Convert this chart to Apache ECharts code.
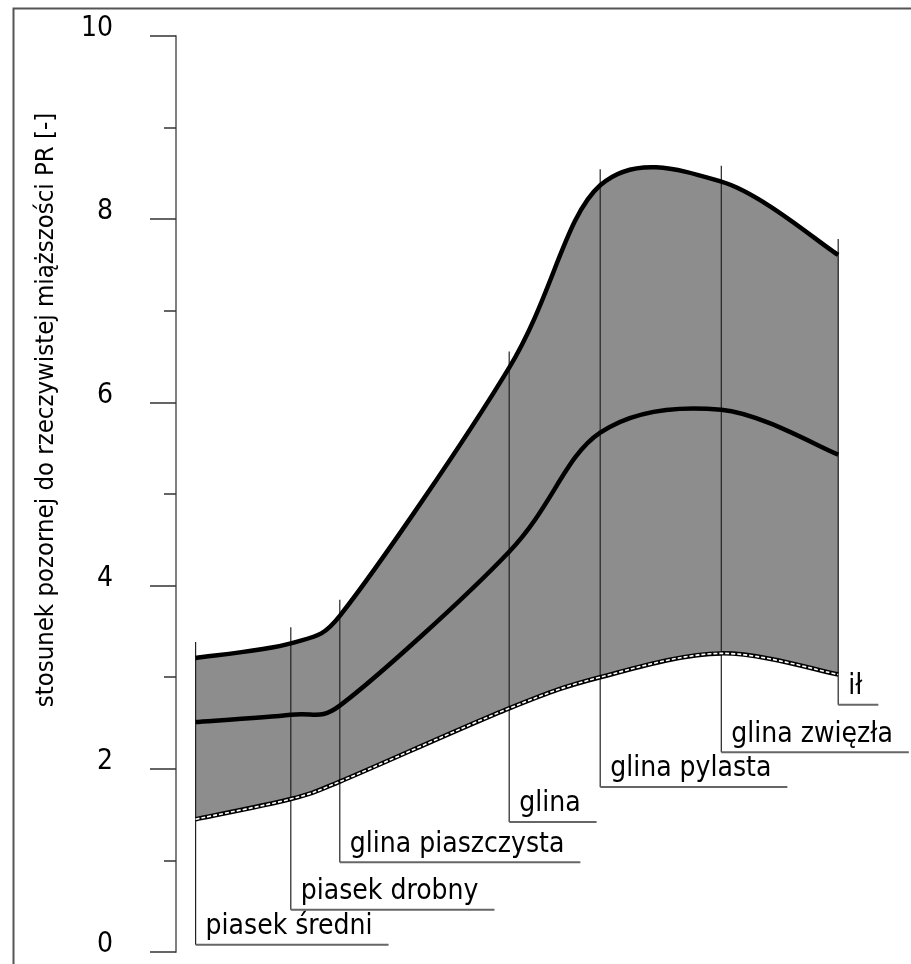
<!DOCTYPE html>
<html><head><meta charset="utf-8">
<script src="https://cdn.jsdelivr.net/npm/echarts@6/dist/echarts.min.js"></script>
<style>html,body{margin:0;padding:0;background:#fff}#c{width:911px;height:964px}</style>
</head><body><div id="c"></div>
<script>
// ---- data ----
const categories = ['piasek średni', 'piasek drobny', 'glina piaszczysta', 'glina', 'glina pylasta', 'glina zwięzła', 'ił'];
const xPos = [2.8, 16.4, 23.4, 47.6, 60.6, 77.9, 94.6];
const maxVals = [3.21, 3.37, 3.67, 6.38, 8.37, 8.41, 7.61];
const meanVals = [2.51, 2.59, 2.69, 4.37, 5.67, 5.92, 5.43];
const minVals = [1.45, 1.67, 1.86, 2.66, 3.00, 3.26, 3.03];
const yTickLabels = ['0', '2', '4', '6', '8', '10'];
const yTitle = 'stosunek pozornej do rzeczywistej miąższości PR [-]';

// ---- layout (label shelf heights in axis units) ----
const LABEL_LEVELS = [0.08, 0.46, 0.98, 1.42, 1.80, 2.18, 2.70];
const FONT = '"DejaVu Sans Condensed", "DejaVu Sans", sans-serif';
const LABEL_SIZE = 28;

const measureCtx = document.createElement('canvas').getContext('2d');
measureCtx.font = LABEL_SIZE + 'px ' + FONT;
function textW(t) { return measureCtx.measureText(t).width; }

// spreadsheet-style smoothing: arm = (next - prev) / 6, capped at half the segment length
function controls(pts) {
  const n = pts.length, cp = [];
  for (let i = 0; i < n; i++) {
    const p = pts[i], prev = pts[i - 1] || p, next = pts[i + 1] || p;
    const ax = (next[0] - prev[0]) / 6, ay = (next[1] - prev[1]) / 6;
    const al = Math.hypot(ax, ay) || 1;
    const s0 = Math.min(1, Math.hypot(p[0] - prev[0], p[1] - prev[1]) / 2 / al);
    const s1 = Math.min(1, Math.hypot(next[0] - p[0], next[1] - p[1]) / 2 / al);
    cp.push({ before: [p[0] - ax * s0, p[1] - ay * s0], after: [p[0] + ax * s1, p[1] + ay * s1] });
  }
  return cp;
}
const f = v => v.toFixed(2);
function forwardPath(pts, move) {
  const cp = controls(pts);
  let d = (move ? 'M' : 'L') + f(pts[0][0]) + ' ' + f(pts[0][1]);
  for (let i = 0; i < pts.length - 1; i++) {
    const a = cp[i].after, b = cp[i + 1].before, q = pts[i + 1];
    d += ' C' + [a[0], a[1], b[0], b[1], q[0], q[1]].map(f).join(' ');
  }
  return d;
}
function backwardPath(pts) {
  const cp = controls(pts);
  const n = pts.length;
  let d = ' L' + f(pts[n - 1][0]) + ' ' + f(pts[n - 1][1]);
  for (let i = n - 1; i > 0; i--) {
    const a = cp[i].before, b = cp[i - 1].after, q = pts[i - 1];
    d += ' C' + [a[0], a[1], b[0], b[1], q[0], q[1]].map(f).join(' ');
  }
  return d;
}
const toPx = (api, vals) => vals.map((v, i) => api.coord([xPos[i], v]));

const rows = xPos.map((x, i) => [x, minVals[i], maxVals[i], meanVals[i], i]);

const chart = echarts.init(document.getElementById('c'), null, { renderer: 'canvas' });
chart.setOption({
  animation: false,
  backgroundColor: '#fff',
  graphic: [{
    type: 'rect', left: 11, top: 6, z: 100,
    shape: { x: 0, y: 0, width: 1000, height: 1000 },
    style: { fill: 'none', stroke: '#555', lineWidth: 2 }
  }],
  grid: { left: 176, right: 35, top: 36, bottom: 12 },
  xAxis: { type: 'value', min: 0, max: 100, show: false },
  yAxis: {
    type: 'value', min: 0, max: 10, interval: 2,
    name: yTitle, nameLocation: 'middle', nameRotate: 90, nameGap: 117,
    nameTextStyle: { fontFamily: FONT, fontSize: 25.5, color: '#000', padding: [0, 0, 0, 168] },
    axisLine: { show: true, lineStyle: { color: '#808080', width: 2 } },
    axisTick: { show: true, length: 26, lineStyle: { color: '#333', width: 1.5 } },
    minorTick: { show: true, splitNumber: 2, length: 12, lineStyle: { color: '#333', width: 1.5 } },
    splitLine: { show: false },
    axisLabel: {
      margin: 63, fontFamily: FONT, fontSize: 28, color: '#000',
      verticalAlign: 'bottom', lineHeight: 14,
      formatter: v => yTickLabels[Math.round(v / 2)] ?? ''
    }
  },
  series: [
    { type: 'custom', name: 'band', z: 1, silent: true, clip: false,
      encode: { x: 0, y: [1, 2] }, data: rows,
      renderItem: (params, api) => {
        if (params.dataIndex !== 0) return null;
        const top = toPx(api, maxVals), bot = toPx(api, minVals);
        return { type: 'path', shape: { pathData: forwardPath(top, true) + backwardPath(bot) + ' Z' },
          style: { fill: '#8d8d8d', stroke: '#8d8d8d', lineWidth: 1 } };
      }
    },
    { type: 'custom', name: 'leaders', z: 2, silent: true, clip: false,
      encode: { x: 0, y: 2 }, data: rows,
      renderItem: (params, api) => {
        const i = api.value(4);
        const pTop = api.coord([api.value(0), api.value(2)]);
        const pBot = api.coord([api.value(0), LABEL_LEVELS[i]]);
        const name = categories[i];
        const xr = Math.min(pBot[0] + 12 + textW(name) + 14, 912);
        return { type: 'group', children: [
          { type: 'line', shape: { x1: pTop[0], y1: pTop[1] - 16, x2: pTop[0], y2: pBot[1] },
            style: { stroke: '#222', lineWidth: 1.2 } },
          { type: 'line', shape: { x1: pBot[0], y1: pBot[1], x2: xr, y2: pBot[1] },
            style: { stroke: '#666', lineWidth: 2 } },
          { type: 'text', x: pBot[0] + 10, y: pBot[1] - 18,
            style: { text: name, fill: '#000', font: LABEL_SIZE + 'px ' + FONT, verticalAlign: 'middle', align: 'left' } }
        ] };
      }
    },
    { type: 'custom', name: 'curves', z: 3, silent: true, clip: false,
      encode: { x: 0, y: [1, 2, 3] }, data: rows,
      renderItem: (params, api) => {
        if (params.dataIndex !== 0) return null;
        const line = (vals, st) => ({ type: 'path', shape: { pathData: forwardPath(toPx(api, vals), true) },
          style: Object.assign({ fill: null, lineJoin: 'round', lineCap: 'butt' }, st) });
        return { type: 'group', children: [
          line(maxVals, { stroke: '#000', lineWidth: 4.5 }),
          line(meanVals, { stroke: '#000', lineWidth: 4.5 }),
          line(minVals, { stroke: '#000', lineWidth: 4.5 }),
          line(minVals, { stroke: '#fff', lineWidth: 1.6, lineDash: [4, 2] })
        ] };
      }
    }
  ]
});
</script></body></html>
